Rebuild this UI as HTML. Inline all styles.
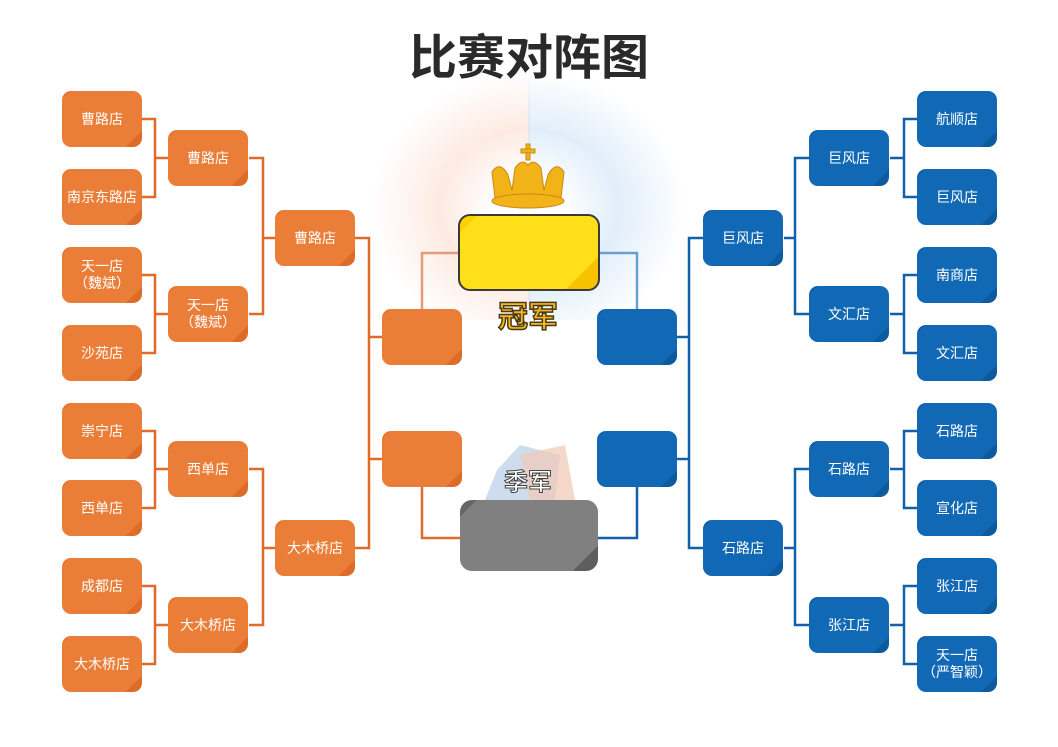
<!DOCTYPE html>
<html><head><meta charset="utf-8"><style>
body{margin:0;width:1058px;height:747px;background:#fff;position:relative;overflow:hidden;font-family:"Liberation Sans","Noto Sans CJK SC",sans-serif}
.b{position:absolute;width:80px;height:56px;border-radius:9px;color:#fff;font-size:14px;display:flex;align-items:center;justify-content:center;text-align:center;line-height:17px}
.o{background:linear-gradient(135deg,#e8742c 0,#e8742c 6%,#ea7d37 6%,#ea7d37 88%,#de6c28 88%)}
.u{background:linear-gradient(135deg,#0f5ea6 0,#0f5ea6 6%,#1169b5 6%,#1169b5 88%,#0d5a9e 88%)}
.t{position:absolute;left:0;width:1058px;top:18px;text-align:center;font-size:48px;font-weight:bold;color:#2a2a2a}
</style></head><body>
<div style="position:absolute;left:370px;top:70px;width:160px;height:250px;background:radial-gradient(ellipse at 100% 55%,rgba(255,255,255,1) 15%,rgba(250,210,190,.45) 40%,rgba(255,255,255,0) 70%)"></div>
<div style="position:absolute;left:528px;top:70px;width:160px;height:250px;background:radial-gradient(ellipse at 0% 55%,rgba(255,255,255,1) 15%,rgba(195,222,245,.5) 40%,rgba(255,255,255,0) 70%)"></div>
<div class="t">比赛对阵图</div>
<svg width="1058" height="747" style="position:absolute;left:0;top:0">
<g fill="none" stroke="#e06a28" stroke-width="2.5">
<path d="M142 119H155V197H142M155 158H168"/>
<path d="M142 275H155V353H142M155 314H168"/>
<path d="M142 431H155V508H142M155 469H168"/>
<path d="M142 586H155V664H142M155 625H168"/>
<path d="M249 158H263V314H249M263 238H275"/>
<path d="M249 469H263V625H249M263 548H275"/>
<path d="M355 238H369V548H355M369 337H382M369 459H382"/>
<path d="M422 487V538H460"/>
<path d="M422 309V253H458" stroke="#e59b7a"/>
</g>
<g fill="none" stroke="#1160aa" stroke-width="2.5">
<path d="M917 119H904V197H917M904 158H890"/>
<path d="M917 275H904V353H917M904 314H890"/>
<path d="M917 431H904V508H917M904 469H890"/>
<path d="M917 586H904V664H917M904 625H890"/>
<path d="M809 158H795V314H809M795 238H784"/>
<path d="M809 469H795V625H809M795 548H784"/>
<path d="M703 238H689V548H703M689 337H677M689 459H677"/>
<path d="M637 487V538H597"/>
<path d="M637 309V253H600" stroke="#6aa0d0"/>
</g>
<polygon points="497,470 520,445 560,455 555,500 485,500" fill="#b8cfe6" opacity=".7"/>
<polygon points="520,455 565,445 575,500 530,500" fill="#f2c7b5" opacity=".7"/>
<g fill="#f2b318" stroke="#c98a10" stroke-width="1">
<path d="M495 198 L492 172 Q500 160 508 175 L512 190 L515 168 Q522 158 528 165 Q534 158 541 168 L544 190 L548 175 Q556 160 564 172 L561 198Z"/>
<ellipse cx="528" cy="201" rx="36" ry="7"/>
<rect x="526" y="144" width="4" height="16"/><rect x="521" y="149" width="14" height="4"/>
</g>
</svg>
<div style="position:absolute;left:458px;top:214px;width:138px;height:73px;border:2.5px solid #3a3a3a;border-radius:12px;background:linear-gradient(135deg,#ffd000 0,#ffd000 8%,#ffde1a 8%,#ffde1a 85%,#f7c300 85%)"></div>
<div style="position:absolute;left:460px;top:292px;width:136px;text-align:center;font-size:30px;font-weight:bold;color:#f5b81a;-webkit-text-stroke:1.5px #4a3a1a">冠军</div>
<div style="position:absolute;left:460px;top:462px;width:136px;text-align:center;font-size:24px;color:#fff;-webkit-text-stroke:1px #444;font-weight:bold">季军</div>
<div style="position:absolute;left:460px;top:500px;width:138px;height:71px;border-radius:12px;background:linear-gradient(135deg,#666 0,#666 8%,#808080 8%,#808080 88%,#5e5e5e 88%)"></div>
<div class="b o" style="left:62px;top:91px">曹路店</div>
<div class="b o" style="left:62px;top:169px">南京东路店</div>
<div class="b o" style="left:62px;top:247px">天一店<br>（魏斌）</div>
<div class="b o" style="left:62px;top:325px">沙苑店</div>
<div class="b o" style="left:62px;top:403px">崇宁店</div>
<div class="b o" style="left:62px;top:480px">西单店</div>
<div class="b o" style="left:62px;top:558px">成都店</div>
<div class="b o" style="left:62px;top:636px">大木桥店</div>
<div class="b o" style="left:168px;top:130px">曹路店</div>
<div class="b o" style="left:168px;top:286px">天一店<br>（魏斌）</div>
<div class="b o" style="left:168px;top:441px">西单店</div>
<div class="b o" style="left:168px;top:597px">大木桥店</div>
<div class="b o" style="left:275px;top:210px">曹路店</div>
<div class="b o" style="left:275px;top:520px">大木桥店</div>
<div class="b o" style="left:382px;top:309px"></div>
<div class="b o" style="left:382px;top:431px"></div>
<div class="b u" style="left:917px;top:91px">航顺店</div>
<div class="b u" style="left:917px;top:169px">巨风店</div>
<div class="b u" style="left:917px;top:247px">南商店</div>
<div class="b u" style="left:917px;top:325px">文汇店</div>
<div class="b u" style="left:917px;top:403px">石路店</div>
<div class="b u" style="left:917px;top:480px">宣化店</div>
<div class="b u" style="left:917px;top:558px">张江店</div>
<div class="b u" style="left:917px;top:636px">天一店<br>（严智颖）</div>
<div class="b u" style="left:809px;top:130px">巨风店</div>
<div class="b u" style="left:809px;top:286px">文汇店</div>
<div class="b u" style="left:809px;top:441px">石路店</div>
<div class="b u" style="left:809px;top:597px">张江店</div>
<div class="b u" style="left:703px;top:210px">巨风店</div>
<div class="b u" style="left:703px;top:520px">石路店</div>
<div class="b u" style="left:597px;top:309px"></div>
<div class="b u" style="left:597px;top:431px"></div>
</body></html>
